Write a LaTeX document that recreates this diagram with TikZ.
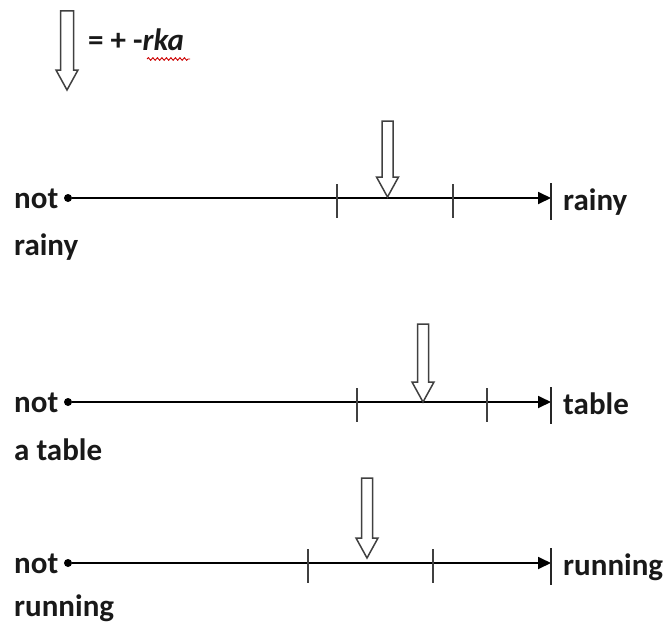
\documentclass[tikz,border=0pt]{standalone}
\usepackage{fontspec}
\setmainfont{Carlito}
\usepackage{tikz}
\usetikzlibrary{calc, arrows.meta, decorations.pathmorphing}

\tikzset{
    lbl/.style={font=\fontsize{31}{36}\selectfont\bfseries, text=black!90, inner sep=0pt, anchor=base west},
    dotnode/.style={circle, fill=black, inner sep=0pt, minimum size=8pt},
    axisline/.style={line width=1.8pt, -{Triangle[length=13pt, width=12pt]}},
    endbar/.style={line width=1.8pt, black!85},
    tickmark/.style={line width=1.8pt, black!75},
    hollow/.style={draw=black!75, line width=1.5pt, fill=white, line join=miter}
}

% mũi tên rỗng hướng xuống: #1 = x, #2 = đỉnh, #3 = mũi, #4 = nửa bề rộng thân
\newcommand{\hollowdown}[4]{%
    \draw[hollow] (#1-#4,#2) -- (#1+#4,#2) -- (#1+#4,#3-20) -- (#1+11,#3-20)
        -- (#1,#3) -- (#1-11,#3-20) -- (#1-#4,#3-20) -- cycle;}

\begin{document}
\begin{tikzpicture}[x=1pt, y=-1pt]
    \useasboundingbox (0,0) rectangle (668,626);

    % 1. Chú thích phía trên
    \hollowdown{67}{11}{90}{6.5}
    \node[lbl] (legend) at (88,51) {= + -\textit{rka}};
    \draw[red!80!black, line width=0.9pt, decorate,
          decoration={snake, segment length=4.5pt, amplitude=1.3pt}] (147,59) -- (190,59);

    % 2. Trục thứ nhất: not rainy -- rainy
    \node[dotnode] (d1) at (68,198) {};
    \coordinate (e1) at (551,198);
    \node[lbl] (not1) at (14,208) {not};
    \node[lbl] (sub1) at (14,255) {rainy};
    \node[lbl] (end1) at (563,210) {rainy};
    \draw[axisline] (d1.east |- e1) -- (e1);
    \draw[endbar] ([yshift=15pt]e1) -- ([yshift=-22pt]e1);
    \foreach \x in {337, 453} \draw[tickmark] (\x,184) -- (\x,218);
    \hollowdown{387.5}{121}{197}{5.5}

    % 3. Trục thứ hai: not a table -- table
    \node[dotnode] (d2) at (68,402) {};
    \coordinate (e2) at (551,402);
    \node[lbl] (not2) at (14,412) {not};
    \node[lbl] (sub2) at (14,460) {a table};
    \node[lbl] (end2) at (563,414) {table};
    \draw[axisline] (d2.east |- e2) -- (e2);
    \draw[endbar] ([yshift=15pt]e2) -- ([yshift=-22pt]e2);
    \foreach \x in {357, 487} \draw[tickmark] (\x,388) -- (\x,422);
    \hollowdown{423}{324}{402}{5.5}

    % 4. Trục thứ ba: not running -- running
    \node[dotnode] (d3) at (68,563) {};
    \coordinate (e3) at (551,563);
    \node[lbl] (not3) at (14,573) {not};
    \node[lbl] (sub3) at (14,616) {running};
    \node[lbl] (end3) at (563,575) {running};
    \draw[axisline] (d3.east |- e3) -- (e3);
    \draw[endbar] ([yshift=15pt]e3) -- ([yshift=-22pt]e3);
    \foreach \x in {308, 433} \draw[tickmark] (\x,549) -- (\x,583);
    \hollowdown{367}{478}{558}{5.5}

\end{tikzpicture}
\end{document}
